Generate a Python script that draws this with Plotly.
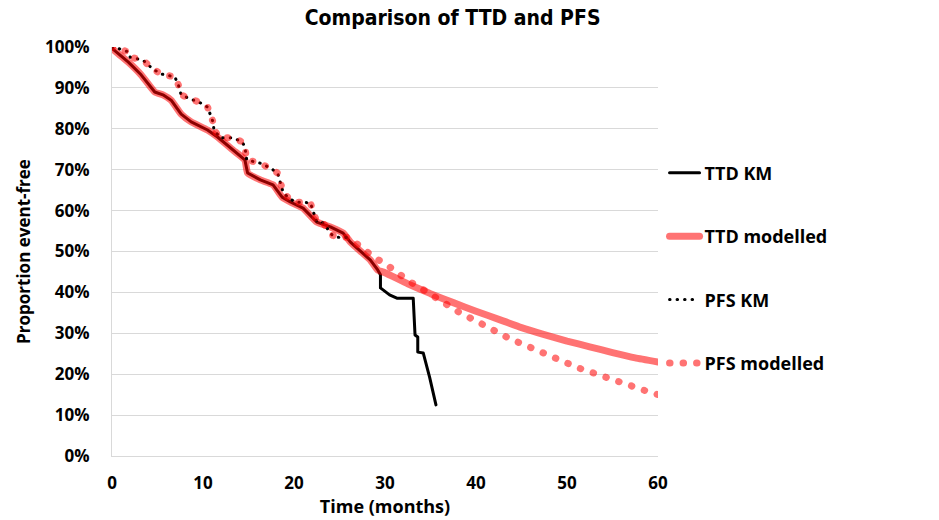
import plotly.graph_objects as go

# ---- data (months, % event-free) ----
ttd_km_t = [0, 0.1, 1.8, 3.2, 4.7, 5.6, 6.5, 7.6, 8.7, 10.5, 11.6, 13.3, 14.6, 14.9, 16.3,
            17.7, 18.7, 19.6, 21.0, 22.5, 24.0, 25.4, 26.2, 26.9, 28.4, 29.2, 29.5, 29.5,
            30.5, 31.3, 33.1, 33.3, 33.6, 33.6, 34.2, 34.9, 35.6]
ttd_km_p = [100, 99.5, 96.3, 93.2, 89.0, 88.3, 87.0, 83.6, 81.7, 79.7, 78.0, 74.8, 72.4, 69.2, 67.5,
            66.3, 63.3, 62.1, 60.6, 57.2, 56.0, 54.5, 52.3, 50.9, 47.9, 45.5, 44.3, 41.1,
            39.4, 38.6, 38.6, 29.6, 29.1, 25.4, 25.2, 19.3, 12.5]

ttd_mod_t = [0, 0.1, 1.8, 3.2, 4.7, 5.6, 6.5, 7.6, 8.7, 10.5, 11.6, 13.3, 14.6, 14.9, 16.3,
             17.7, 18.7, 19.6, 21.0, 22.5, 24.0, 25.4, 26.2, 26.9, 28.4, 29.2,
             30.0, 32.5, 35.0, 37.5, 40.0, 42.5, 45.0, 47.5, 50.0, 52.5, 55.0, 57.5, 60.0]
ttd_mod_p = [100, 99.5, 96.3, 93.2, 89.0, 88.3, 87.0, 83.6, 81.7, 79.7, 78.0, 74.8, 72.4, 69.2, 67.5,
             66.3, 63.3, 62.1, 60.6, 57.2, 56.0, 54.5, 52.3, 50.9, 47.9, 45.5,
             44.8, 42.1, 39.7, 37.5, 35.4, 33.4, 31.4, 29.7, 28.1, 26.7, 25.3, 24.0, 23.0]

pfs_km_t = [0, 0.9, 1.8, 2.0, 3.4, 4.5, 5.4, 6.2, 6.9, 7.3, 7.6, 8.6, 9.5, 10.5, 10.8, 11.1,
            11.2, 11.9, 13.3, 14.3, 14.6, 14.8, 16.3, 17.4, 18.2, 18.5, 18.8, 19.3, 20.1,
            21.8, 22.0, 22.3, 22.5, 23.2, 23.6, 24.2, 24.8, 25.4, 25.9]
pfs_km_p = [100, 99.5, 98.8, 97.5, 96.8, 94.6, 93.4, 93.0, 92.7, 90.7, 88.3, 87.3, 86.6, 85.3, 83.6, 81.7,
            79.7, 77.8, 77.8, 76.8, 75.6, 72.4, 71.6, 70.4, 69.2, 67.0, 64.5, 63.3, 62.1,
            61.9, 60.6, 58.9, 57.2, 57.0, 55.7, 54.0, 53.5, 53.3, 53.5]

pfs_mod_t = [0, 0.9, 1.8, 2.0, 3.4, 4.5, 5.4, 6.2, 6.9, 7.3, 7.6, 8.6, 9.5, 10.5, 10.8, 11.1,
             11.2, 11.9, 13.3, 14.3, 14.6, 14.8, 16.3, 17.4, 18.2, 18.5, 18.8, 19.3, 20.1,
             21.8, 22.0, 22.3, 22.5, 23.2, 23.6, 24.2, 24.8, 25.4, 25.9,
             27.5, 28.7, 30.1, 31.3, 32.6, 34.1, 35.4, 36.8, 38.1, 39.6, 41.0, 42.4, 43.8,
             45.4, 46.8, 48.4, 49.8, 51.3, 52.9, 54.4, 55.9, 57.5, 59.1, 60.0]
pfs_mod_p = [100, 99.5, 98.8, 97.5, 96.8, 94.6, 93.4, 93.0, 92.7, 90.7, 88.3, 87.3, 86.6, 85.3, 83.6, 81.7,
             79.7, 77.8, 77.8, 76.8, 75.6, 72.4, 71.6, 70.4, 69.2, 67.0, 64.5, 63.3, 62.1,
             61.9, 60.6, 58.9, 57.2, 57.0, 55.7, 54.0, 53.5, 53.3, 53.5,
             50.9, 48.7, 46.9, 44.8, 42.8, 40.8, 38.9, 37.2, 35.2, 33.5, 31.8, 30.3, 28.6,
             27.1, 25.7, 24.2, 22.7, 21.5, 20.3, 19.1, 17.8, 16.9, 15.6, 15.0]

x_ticks = [0, 10, 20, 30, 40, 50, 60]

RED = "rgba(255,0,0,0.55)"
LBL = "Open Sans"

fig = go.Figure()
fig.add_trace(go.Scatter(x=ttd_km_t, y=[v / 100 for v in ttd_km_p], mode="lines", name="TTD KM",
                         line=dict(color="black", width=3), legendgroup="a"))
fig.add_trace(go.Scatter(x=ttd_mod_t, y=[v / 100 for v in ttd_mod_p], mode="lines", name="TTD modelled",
                         line=dict(color=RED, width=7, shape="spline", smoothing=0.4), legendgroup="b"))
fig.add_trace(go.Scatter(x=pfs_km_t, y=[v / 100 for v in pfs_km_p], mode="lines", name="PFS KM",
                         line=dict(color="black", width=3, dash="0.5px,7px"), legendgroup="c"))
fig.add_trace(go.Scatter(x=pfs_mod_t, y=[v / 100 for v in pfs_mod_p], mode="lines", name="PFS modelled",
                         line=dict(color=RED, width=7, dash="0.5px,13px"), legendgroup="d"))

fig.update_layout(
    width=939, height=520,
    margin=dict(l=112, r=281, t=47, b=64),
    plot_bgcolor="white", paper_bgcolor="white",
    title=dict(text="Comparison of TTD and PFS", x=0.482, xanchor="center", y=0.967, yanchor="middle",
               xref="container", yref="container",
               font=dict(family="DejaVu Sans Condensed, Liberation Sans Narrow, Roboto", size=21,
                         color="black", weight="bold")),
    showlegend=True,
    legend=dict(x=1.012, xanchor="left", y=0.737, yanchor="top", traceorder="grouped",
                tracegroupgap=37, itemwidth=30,
                font=dict(family=LBL, size=18, color="black", weight="bold"), bgcolor="rgba(0,0,0,0)"),
    xaxis=dict(range=[0, 60], tickvals=x_ticks, ticktext=[str(v) for v in x_ticks],
               showgrid=False, zeroline=False, showline=True, linecolor="#d9d9d9", linewidth=1,
               ticks="", ticklabelstandoff=12, automargin=False,
               tickfont=dict(family=LBL, size=17, color="black", weight="bold"),
               title=dict(text="Time (months)", standoff=6,
                          font=dict(family=LBL, size=18, color="black", weight="bold"))),
    yaxis=dict(range=[0, 1], dtick=0.1, tickformat=".0%",
               showgrid=True, gridcolor="#d9d9d9", gridwidth=1, zeroline=False,
               showline=True, linecolor="#d9d9d9", linewidth=1, ticks="", ticklabelstandoff=18,
               automargin=False,
               tickfont=dict(family=LBL, size=17, color="black", weight="bold"),
               title=dict(text="Proportion event-free", standoff=10,
                          font=dict(family=LBL, size=17, color="black", weight="bold"))),
)

post = """
document.documentElement.style.margin='0';
document.body.style.margin='0';
function rc(){document.querySelectorAll('.js-line').forEach(function(p){p.style.strokeLinecap='round';p.style.strokeLinejoin='round';});}
rc();
var gd=document.getElementsByClassName('plotly-graph-div')[0];
if(gd&&gd.on){gd.on('plotly_afterplot',rc);}
"""
fig.write_html("out.html", post_script=post, config={"displayModeBar": False})
